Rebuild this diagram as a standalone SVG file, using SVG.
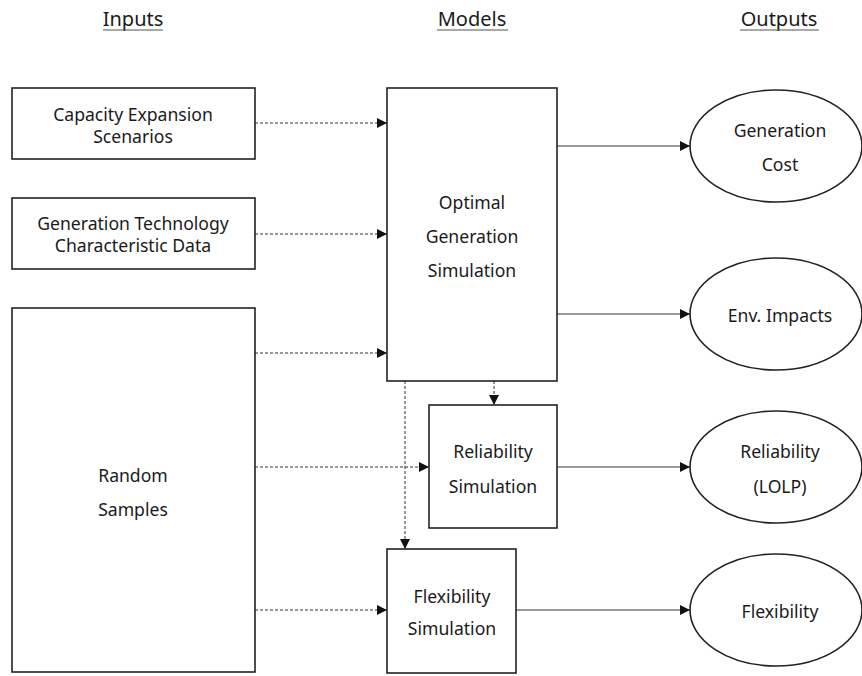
<svg xmlns="http://www.w3.org/2000/svg" width="862" height="676" viewBox="0 0 862 676">
<style>
.box{fill:#fff;stroke:#222;stroke-width:1.6}
.t{font-family:"Noto Sans","Open Sans",sans-serif;font-size:17.6px;fill:#1a1a1a;text-anchor:middle}
.h{font-family:"Noto Sans","Open Sans",sans-serif;font-size:20px;fill:#1a1a1a;text-anchor:middle}
.ul{stroke:#555;stroke-width:1.2}
.d{stroke:#333;stroke-width:1;stroke-dasharray:3,2;fill:none}
.s{stroke:#333;stroke-width:1;fill:none}
</style>
<defs>
<marker id="ar" viewBox="0 0 10 10" refX="10" refY="5" markerWidth="10" markerHeight="10" markerUnits="userSpaceOnUse" orient="auto">
<path d="M0,0 L10,5 L0,10 Z" fill="#111"/>
</marker>
</defs>
<g id="headers">
<text class="h" x="133" y="26">Inputs</text><line class="ul" x1="103" y1="30" x2="163" y2="30"/>
<text class="h" x="472" y="26">Models</text><line class="ul" x1="437" y1="30" x2="508" y2="30"/>
<text class="h" x="779" y="26">Outputs</text><line class="ul" x1="740" y1="30" x2="819" y2="30"/>
</g>
<g id="connectors">
<line class="d" x1="255" y1="123" x2="387" y2="123" marker-end="url(#ar)"/>
<line class="d" x1="255" y1="234" x2="387" y2="234" marker-end="url(#ar)"/>
<line class="d" x1="255" y1="353" x2="387" y2="353" marker-end="url(#ar)"/>
<line class="d" x1="255" y1="467" x2="429" y2="467" marker-end="url(#ar)"/>
<line class="d" x1="255" y1="610" x2="387" y2="610" marker-end="url(#ar)"/>
<line class="d" x1="494" y1="381" x2="494" y2="405" marker-end="url(#ar)"/>
<line class="d" x1="405" y1="381" x2="405" y2="549" marker-end="url(#ar)"/>
<line class="s" x1="557" y1="146" x2="690" y2="146" marker-end="url(#ar)"/>
<line class="s" x1="557" y1="314" x2="690" y2="314" marker-end="url(#ar)"/>
<line class="s" x1="557" y1="467" x2="690" y2="467" marker-end="url(#ar)"/>
<line class="s" x1="516" y1="610" x2="690" y2="610" marker-end="url(#ar)"/>
</g>
<g id="capacity">
<rect class="box" x="12" y="88" width="243" height="71"/>
<text class="t" x="133" y="121">Capacity Expansion</text>
<text class="t" x="133" y="143">Scenarios</text>
</g>
<g id="gentech">
<rect class="box" x="12" y="198" width="243" height="71"/>
<text class="t" x="133" y="230">Generation Technology</text>
<text class="t" x="133" y="252">Characteristic Data</text>
</g>
<g id="random">
<rect class="box" x="12" y="308" width="243" height="364"/>
<text class="t" x="133" y="482">Random</text>
<text class="t" x="133" y="516">Samples</text>
</g>
<g id="optimal">
<rect class="box" x="387" y="88" width="170" height="293"/>
<text class="t" x="472" y="209">Optimal</text>
<text class="t" x="472" y="243">Generation</text>
<text class="t" x="472" y="277">Simulation</text>
</g>
<g id="reliability">
<rect class="box" x="429" y="405" width="128" height="123"/>
<text class="t" x="493" y="458">Reliability</text>
<text class="t" x="493" y="493">Simulation</text>
</g>
<g id="flexibility">
<rect class="box" x="387" y="549" width="129" height="124"/>
<text class="t" x="452" y="603">Flexibility</text>
<text class="t" x="452" y="635">Simulation</text>
</g>
<g id="gencost">
<ellipse class="box" cx="776" cy="146" rx="86" ry="56"/>
<text class="t" x="780" y="137">Generation</text>
<text class="t" x="780" y="171">Cost</text>
</g>
<g id="env">
<ellipse class="box" cx="776" cy="314" rx="86" ry="56"/>
<text class="t" x="780" y="322">Env. Impacts</text>
</g>
<g id="relout">
<ellipse class="box" cx="776" cy="467" rx="86" ry="56"/>
<text class="t" x="780" y="458">Reliability</text>
<text class="t" x="780" y="493">(LOLP)</text>
</g>
<g id="flexout">
<ellipse class="box" cx="776" cy="610" rx="86" ry="56"/>
<text class="t" x="780" y="618">Flexibility</text>
</g>
</svg>
